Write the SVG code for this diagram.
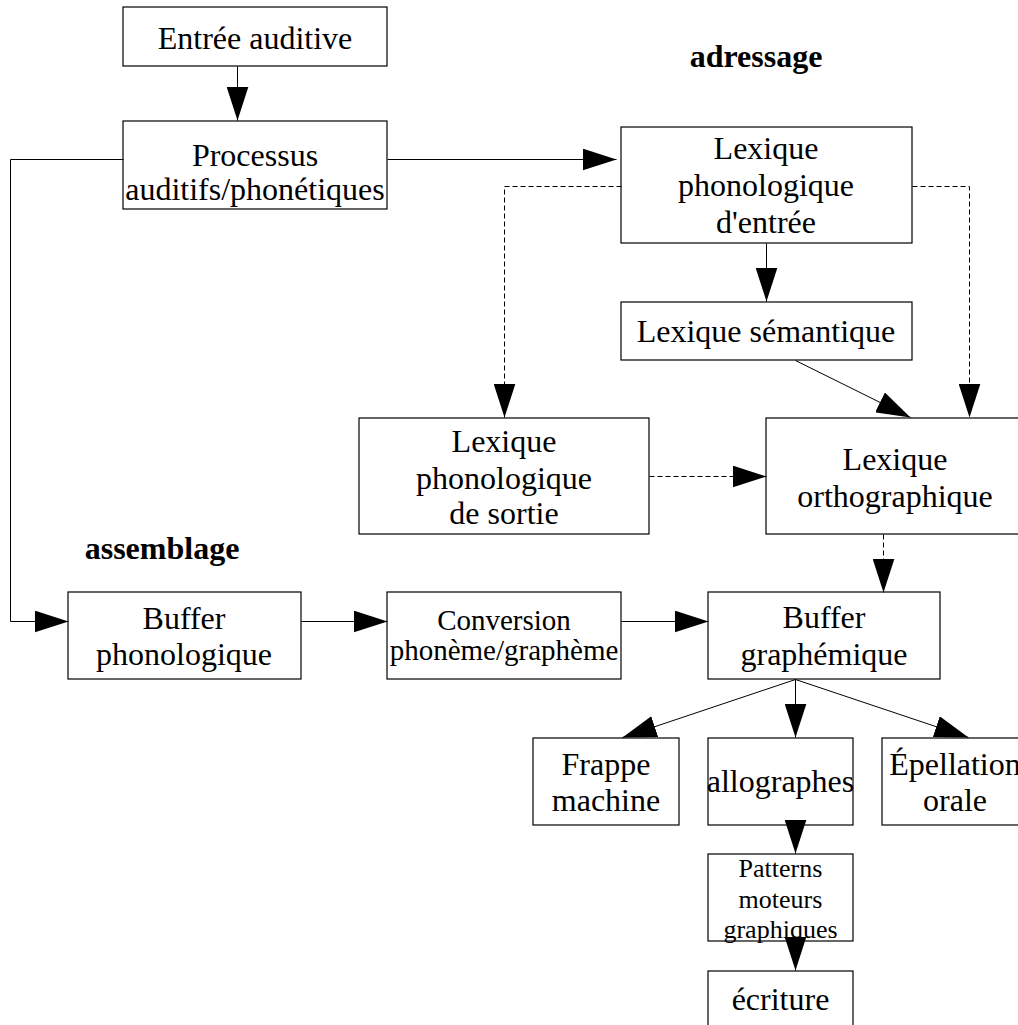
<svg xmlns="http://www.w3.org/2000/svg" width="1018" height="1025" viewBox="0 0 1018 1025">
<style>
rect{fill:#fff;stroke:#000;stroke-width:1.2}
text{font-family:"Liberation Serif","Times New Roman",serif;font-size:32px;fill:#000;text-anchor:middle}
.b{font-weight:bold}
.s29{font-size:29px}
.s26{font-size:26px}
.c line,.c polyline{fill:none;stroke:#000;stroke-width:1;marker-end:url(#ah)}
.d{stroke-dasharray:5,3}
</style>
<defs>
<marker id="ah" markerUnits="userSpaceOnUse" viewBox="0 0 34 22" refX="34" refY="11" markerWidth="34" markerHeight="22" orient="auto">
<path d="M0,0 L34,11 L0,22 z" fill="#000"/>
</marker>
</defs>
<rect x="0" y="0" width="1018" height="1025" style="stroke:none"/>
<text class="b" x="756" y="67">adressage</text>
<text class="b" x="162" y="559">assemblage</text>
<g id="n-entree"><rect x="123" y="7" width="264" height="59"/><text x="255" y="49">Entrée auditive</text></g>
<g id="n-processus"><rect x="123" y="121" width="264" height="88"/><text x="255" y="166">Processus</text><text x="255" y="200">auditifs/phonétiques</text></g>
<g id="n-lexentree"><rect x="621" y="127" width="291" height="116"/><text x="766" y="159">Lexique</text><text x="766" y="196">phonologique</text><text x="766" y="233">d'entrée</text></g>
<g id="n-semantique"><rect x="621" y="302" width="291" height="58"/><text x="766" y="342">Lexique sémantique</text></g>
<g id="n-lexsortie"><rect x="359" y="418" width="290" height="116"/><text x="504" y="452">Lexique</text><text x="504" y="489">phonologique</text><text x="504" y="524">de sortie</text></g>
<g id="n-lexortho"><rect x="766" y="418" width="260" height="116"/><text x="895" y="470">Lexique</text><text x="895" y="507">orthographique</text></g>
<g id="n-bufphon"><rect x="68" y="592" width="233" height="87"/><text x="184" y="629">Buffer</text><text x="184" y="665">phonologique</text></g>
<g id="n-conversion"><rect x="387" y="592" width="234" height="87"/><text class="s29" x="504" y="630">Conversion</text><text class="s29" x="504" y="660">phonème/graphème</text></g>
<g id="n-bufgraph"><rect x="708" y="592" width="232" height="87"/><text x="824" y="628">Buffer</text><text x="824" y="665">graphémique</text></g>
<g id="n-frappe"><rect x="533" y="738" width="146" height="87"/><text x="606" y="775">Frappe</text><text x="606" y="811">machine</text></g>
<g id="n-allographes"><rect x="708" y="738" width="145" height="87"/><text x="780.5" y="792">allographes</text></g>
<g id="n-epellation"><rect x="882" y="738" width="146" height="87"/><text x="955" y="775">Épellation</text><text x="955" y="811">orale</text></g>
<g id="n-patterns"><rect x="708" y="854" width="145" height="87"/><text class="s26" x="780.5" y="877">Patterns</text><text class="s26" x="780.5" y="908">moteurs</text><text class="s26" x="780.5" y="938">graphiques</text></g>
<g id="n-ecriture"><rect x="708" y="971" width="145" height="60"/><text x="780.5" y="1010">écriture</text></g>
<g id="connectors" class="c" transform="translate(0.5,0.5)">
<line x1="237" y1="66" x2="237" y2="120"/>
<line x1="387" y1="159" x2="616" y2="159"/>
<line x1="766" y1="243" x2="766" y2="301"/>
<polyline class="d" points="621,186 504,186 504,417"/>
<polyline class="d" points="912,186 969,186 969,417"/>
<line x1="795" y1="360" x2="910" y2="417"/>
<line class="d" x1="649" y1="476" x2="766" y2="476"/>
<line class="d" x1="883" y1="534" x2="883" y2="592"/>
<polyline points="123,159 10,159 10,621 68,621"/>
<line x1="301" y1="621" x2="387" y2="621"/>
<line x1="621" y1="621" x2="708" y2="621"/>
<line x1="795" y1="679" x2="622" y2="737"/>
<line x1="795" y1="679" x2="795" y2="737"/>
<line x1="795" y1="679" x2="968" y2="737"/>
<line x1="795" y1="825" x2="795" y2="853"/>
<line x1="795" y1="941" x2="795" y2="970"/>
</g>
</svg>
